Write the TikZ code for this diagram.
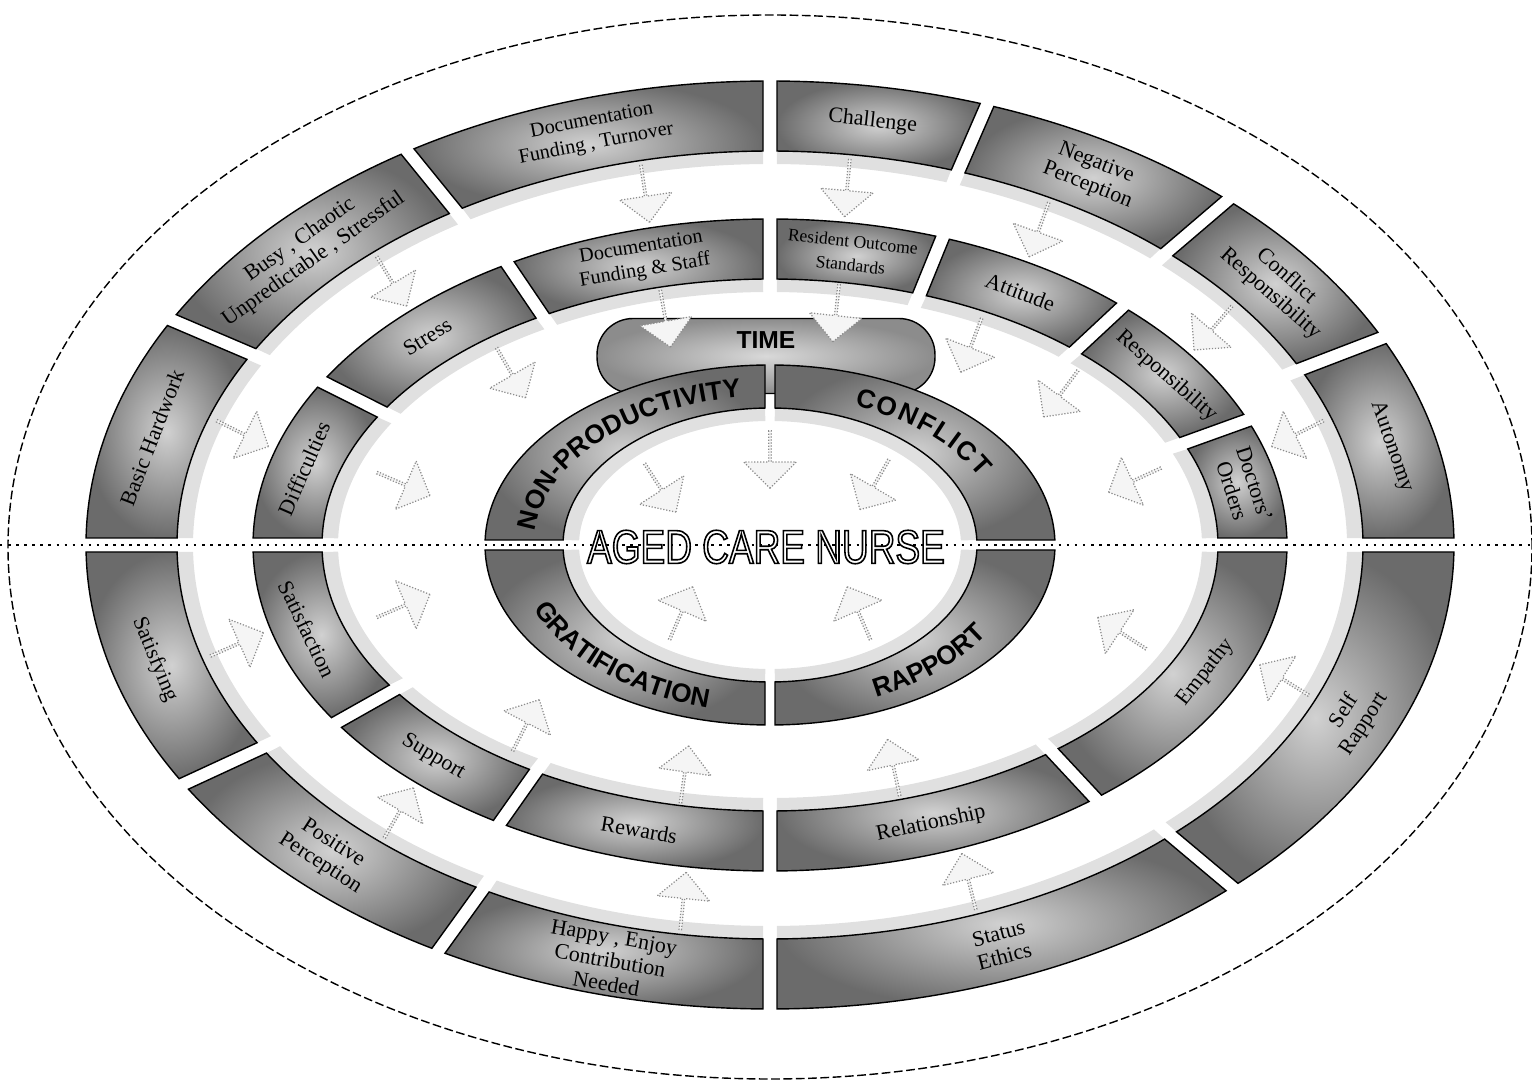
\documentclass[tikz,border=0pt]{standalone}
\usepackage{fontspec}
\setmainfont{Liberation Serif}
\setsansfont{Liberation Sans}
\newfontfamily\narrowsans[FakeStretch=0.78]{Liberation Sans}
\usetikzlibrary{shapes.arrows,decorations.text}

% ring geometry: outer x/y radius, inner x/y radius, half gap
\newcommand\setring[5]{\def\rxo{#1}\def\ryo{#2}\def\rxi{#3}\def\ryi{#4}\def\halfgap{#5}}
\newcommand\coretext{\sffamily\bfseries\fontsize{15}{15}\selectfont}
\newcommand\smalllbl{\fontsize{11.5}{12.5}\selectfont}
\newcommand\tinylbl{\fontsize{10}{11}\selectfont}
% hollow letters: white fill, black stroke
\newcommand\hollow[1]{\special{pdf:literal direct 2 Tr 0.9 w 1 g 0 G}#1\special{pdf:literal direct 0 Tr 0 g 0 G}}

% one ring segment: start angle, end angle, name, label
\newcommand\ringseg[4]{%
  \pgfmathsetmacro\so{#1+deg(\halfgap/(100*veclen(\rxo*sin(#1)/100,\ryo*cos(#1)/100)))}%
  \pgfmathsetmacro\eo{#2-deg(\halfgap/(100*veclen(\rxo*sin(#2)/100,\ryo*cos(#2)/100)))}%
  \pgfmathsetmacro\si{#1+deg(\halfgap/(100*veclen(\rxi*sin(#1)/100,\ryi*cos(#1)/100)))}%
  \pgfmathsetmacro\ei{#2-deg(\halfgap/(100*veclen(\rxi*sin(#2)/100,\ryi*cos(#2)/100)))}%
  \pgfmathsetmacro\rxs{\rxi-16}\pgfmathsetmacro\rys{\ryi-13}%
  \pgfmathsetmacro\rxm{(\rxo+\rxi)/2}\pgfmathsetmacro\rym{(\ryo+\ryi)/2}%
  \pgfmathsetmacro\tm{(#1+#2)/2}%
  \pgfmathsetmacro\sg{sin(\tm)>0 ? 1 : -1}%
  \pgfmathsetmacro\rot{atan2(\sg*(-\rym)*cos(\tm)/100, \sg*\rxm*sin(\tm)/100)}%
  \fill[segshadow] ({\rxi*cos(\si)},{\ryi*sin(\si)}) arc[start angle=\si, end angle=\ei, x radius=\rxi, y radius=\ryi]
    -- ({\rxs*cos(\ei)},{\rys*sin(\ei)}) arc[start angle=\ei, end angle=\si, x radius=\rxs, y radius=\rys] -- cycle;
  \path[segment] ({\rxo*cos(\so)},{\ryo*sin(\so)}) arc[start angle=\so, end angle=\eo, x radius=\rxo, y radius=\ryo]
    -- ({\rxi*cos(\ei)},{\ryi*sin(\ei)}) arc[start angle=\ei, end angle=\si, x radius=\rxi, y radius=\ryi] -- cycle;
  \node[seglabel, rotate=\rot] (#3) at ({\rxm*cos(\tm)},{\rym*sin(\tm)}) {#4};
}

% inward arrows on an ellipse: x radius, y radius, name prefix, angles
\newcommand\flowarrows[4]{%
  \foreach \t [count=\n] in {#4}{%
    \pgfmathsetmacro\ang{atan2(-#1*sin(\t)/100, -#2*cos(\t)/100)}%
    \node[flowarrow, rotate=\ang] (#3\n) at ({#1*cos(\t)},{#2*sin(\t)}) {};
  }}

\begin{document}
\begin{tikzpicture}[x=0.02cm, y=0.02cm,
  segment/.style={draw=black, line width=0.8pt, inner color=black!18, outer color=black!58},
  segshadow/.style={fill=black!12},
  seglabel/.style={font=\fontsize{12.5}{13.5}\selectfont, align=center, inner sep=0pt},
  flowarrow/.style={single arrow, draw=black!45, densely dotted, line width=0.7pt, fill=black!4,
    minimum height=1.15cm, minimum width=1.05cm, single arrow head extend=0.25cm, inner sep=0pt},
  timecap/.style={draw=black, line width=0.8pt, rounded corners=0.72cm, minimum width=6.76cm,
    minimum height=1.5cm, inner color=black!15, outer color=black!45},
  outerline/.style={dash pattern=on 5pt off 2pt, line width=0.8pt},
  midline/.style={line width=1.4pt, dash pattern=on 1.4pt off 3.2pt}]

  \useasboundingbox (0,0) rectangle (1532,1089);
  \draw[outerline] (770,542) ellipse [x radius=762, y radius=532];

  \begin{scope}[shift={(770,544)}]
    % outer ring
    \setring{684}{464}{593}{394}{7}
    \foreach \a/\b/\nm/\txt in {
        0/26.5/autonomy/{Autonomy},
        26.5/48/confresp/{Conflict\\Responsibility},
        48/71.5/negperc/{Negative\\Perception},
        71.5/90/challenge/{Challenge},
        90/122/docturn/{\smalllbl Documentation\\\smalllbl Funding , Turnover},
        122/151/busy/{Busy , Chaotic\\Unpredictable , Stressful},
        151/180/hardwork/{Basic Hardwork},
        180/211/satisfying/{Satisfying},
        211/241/posperc/{Positive\\Perception},
        241/270/happy/{Happy , Enjoy\\Contribution\\Needed},
        270/312.5/status/{Status\\Ethics},
        312.5/360/selfrap/{Self\\Rapport}}
      {\ringseg{\a}{\b}{\nm}{\txt}}

    % middle ring
    \setring{517}{326}{448}{266}{7}
    \foreach \a/\b/\nm/\txt in {
        0/22.5/doctors/{Doctors'\\Orders},
        22.5/47/respons/{Responsibility},
        47/70.5/attitude/{Attitude},
        70.5/90/resident/{\tinylbl Resident Outcome\\\tinylbl Standards},
        90/120.5/docstaff/{\smalllbl Documentation\\\smalllbl Funding \& Staff},
        120.5/150/stress/{Stress},
        150/180/difficult/{Difficulties},
        180/213/satisfaction/{Satisfaction},
        213/238.5/support/{Support},
        238.5/270/rewards/{Rewards},
        270/309/relation/{Relationship},
        309/360/empathy/{Empathy}}
      {\ringseg{\a}{\b}{\nm}{\txt}}
  \end{scope}

  \node[timecap] (time) at (766,733) {};

  \begin{scope}[shift={(770,544)}]
    % core ring
    \setring{285}{180}{207}{137}{5}
    \ringseg{0}{90}{conflict}{}
    \ringseg{90}{180}{nonprod}{}
    \ringseg{180}{270}{gratif}{}
    \ringseg{270}{360}{rapport}{}

    \flowarrows{555}{361}{oa}{103,82,61,37,18,-22,-69,-99,-132,196,162,133}
    \flowarrows{380}{236}{ma}{106,80,58,40,16,-22,-71,-103,-130,195,165,133}
    \flowarrows{148}{86}{ca}{138,90,45,233,307}
  \end{scope}

  \coordinate (west) at (0,544);
  \coordinate (east) at (1532,544);
  \draw[midline] (west) -- (east);

  \begin{scope}[shift={(770,544)}]
    \path[decorate, decoration={text along path, text align=center,
        text={|\coretext|NON-PRODUCTIVITY}}]
      (178:236 and 149) arc[start angle=178, end angle=95, x radius=236, y radius=149];
    \path[decorate, decoration={text along path, text align={fit to path},
        text={|\coretext|CONFLICT}}]
      (69:236 and 149) arc[start angle=69, end angle=27, x radius=236, y radius=149];
    \path[decorate, decoration={text along path, text align=center,
        text={|\coretext|GRATIFICATION}}]
      (201:256 and 168) arc[start angle=201, end angle=257, x radius=256, y radius=168];
    \path[decorate, decoration={text along path, text align=center,
        text={|\coretext|RAPPORT}}]
      (293:256 and 168) arc[start angle=293, end angle=330, x radius=256, y radius=168];
  \end{scope}

  \node[font=\sffamily\bfseries\fontsize{14}{14}\selectfont] (timelabel) at (766,749) {TIME};
  \node[font=\narrowsans\fontsize{27}{27}\selectfont, inner sep=1pt] (nurse) at (766,542)
    {\hollow{AGED CARE NURSE}};
\end{tikzpicture}
\end{document}
